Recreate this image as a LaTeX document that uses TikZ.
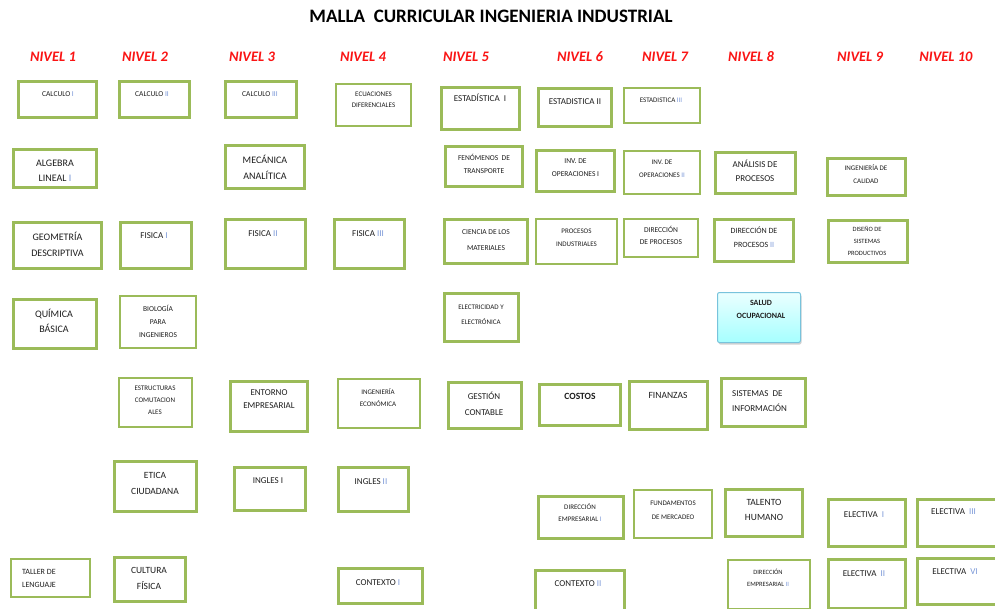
\documentclass[tikz,border=0pt]{standalone}
\usepackage{fontspec}
\setmainfont{Carlito}
\usetikzlibrary{shadows}

\definecolor{verde}{RGB}{155,187,89}
\definecolor{rojonivel}{RGB}{250,20,20}
\definecolor{texto}{RGB}{30,30,30}
\definecolor{romazul}{RGB}{120,150,215}
\definecolor{saludborde}{RGB}{120,195,220}
\newcommand{\rom}[1]{\textcolor{romazul}{#1}}

\tikzset{
  materia/.style={draw=verde, line width=3pt, fill=white, inner sep=0pt},
  materia fina/.style={draw=verde, line width=2pt, fill=white, inner sep=0pt},
  rotulo/.style 2 args={align=center, inner sep=0pt, text=texto, font=\fontsize{#1}{#2}\selectfont},
  nivel/.style={text=rojonivel, font=\fontsize{14.5}{14.5}\selectfont\bfseries\itshape}
}

\begin{document}
\begin{tikzpicture}[x=1pt,y=-1pt]
\useasboundingbox[fill=white] (0,0) rectangle (995,608);

\node[font=\fontsize{19}{19}\selectfont\bfseries, text=black] (titulo) at (491,16) {MALLA\ \ CURRICULAR INGENIERIA INDUSTRIAL};

% niveles
\node[nivel] (n1) at (53,57) {NIVEL 1};
\node[nivel] (n2) at (145,57) {NIVEL 2};
\node[nivel] (n3) at (252,57) {NIVEL 3};
\node[nivel] (n4) at (363,57) {NIVEL 4};
\node[nivel] (n5) at (466,57) {NIVEL 5};
\node[nivel] (n6) at (580,57) {NIVEL 6};
\node[nivel] (n7) at (665,57) {NIVEL 7};
\node[nivel] (n8) at (751,57) {NIVEL 8};
\node[nivel] (n9) at (860,57) {NIVEL 9};
\node[nivel] (n10) at (946,57) {NIVEL 10};

% nivel 1
\node[materia, minimum width=78, minimum height=36] (calculoI) at (57.5,99.5) {};
\node[rotulo={7.5}{9}] (tcalculoI) at (58,94) {CALCULO \rom{I}};
\node[materia, minimum width=83, minimum height=38] (algebra) at (55,168.5) {};
\node[rotulo={10}{15}] (talgebra) at (55,170.5) {ALGEBRA\\LINEAL \rom{I}};
\node[materia, minimum width=88, minimum height=46] (geometria) at (57.5,245.5) {};
\node[rotulo={10}{16}] (tgeometria) at (57.5,244) {GEOMETRÍA\\DESCRIPTIVA};
\node[materia, minimum width=83, minimum height=49] (quimica) at (55,324) {};
\node[rotulo={10}{15}] (tquimica) at (54,320.5) {QUÍMICA\\BÁSICA};
\node[materia fina, minimum width=79, minimum height=38] (taller) at (50.5,578) {};
\node[rotulo={8}{13}, align=left, anchor=west] (ttaller) at (22,578.5) {TALLER DE\\LENGUAJE};

% nivel 2
\node[materia, minimum width=70, minimum height=36] (calculoII) at (154.5,99.5) {};
\node[rotulo={7.5}{9}] (tcalculoII) at (152,94) {CALCULO \rom{II}};
\node[materia, minimum width=71, minimum height=46] (fisicaI) at (156,245.5) {};
\node[rotulo={9}{9}] (tfisicaI) at (154,236) {FISICA \rom{I}};
\node[materia fina, minimum width=76, minimum height=52] (biologia) at (158,322) {};
\node[rotulo={7.5}{13}] (tbiologia) at (158,321) {BIOLOGÍA\\PARA\\INGENIEROS};
\node[materia fina, minimum width=73, minimum height=49] (estructuras) at (155.5,402.5) {};
\node[rotulo={7}{12}] (testructuras) at (155,400) {ESTRUCTURAS\\COMUTACION\\ALES};
\node[materia, minimum width=82, minimum height=50] (etica) at (155.5,486.5) {};
\node[rotulo={9.5}{16}] (tetica) at (155,483) {ETICA\\CIUDADANA};
\node[materia, minimum width=71, minimum height=44] (cultura) at (150,579.5) {};
\node[rotulo={9.5}{16}] (tcultura) at (149,578) {CULTURA\\FÍSICA};

% nivel 3
\node[materia, minimum width=71, minimum height=36] (calculoIII) at (261,99.5) {};
\node[rotulo={7.5}{9}] (tcalculoIII) at (260,94) {CALCULO \rom{III}};
\node[materia, minimum width=79, minimum height=43] (mecanica) at (265,167) {};
\node[rotulo={10}{16}] (tmecanica) at (265,167) {MECÁNICA\\ANALÍTICA};
\node[materia, minimum width=80, minimum height=49] (fisicaII) at (265.5,244) {};
\node[rotulo={9}{9}] (tfisicaII) at (263,234) {FISICA \rom{II}};
\node[materia, minimum width=77, minimum height=50] (entorno) at (269,406.5) {};
\node[rotulo={9}{13}] (tentorno) at (269,399.5) {ENTORNO\\EMPRESARIAL};
\node[materia, minimum width=71, minimum height=43] (inglesI) at (270,489) {};
\node[rotulo={9}{9}] (tinglesI) at (268,481) {INGLES I};

% nivel 4
\node[materia fina, minimum width=75, minimum height=42] (ecuaciones) at (373.5,105) {};
\node[rotulo={7}{11}] (tecuaciones) at (373.5,99.5) {ECUACIONES\\DIFERENCIALES};
\node[materia, minimum width=70, minimum height=49] (fisicaIII) at (369.5,244) {};
\node[rotulo={9}{9}] (tfisicaIII) at (368,234) {FISICA \rom{III}};
\node[materia fina, minimum width=82, minimum height=49] (ingeco) at (379,403.5) {};
\node[rotulo={7}{12}] (tingeco) at (378,398) {INGENIERÍA\\ECONÓMICA};
\node[materia, minimum width=70, minimum height=44] (inglesII) at (373.5,489.5) {};
\node[rotulo={9}{9}] (tinglesII) at (371,482) {INGLES \rom{II}};
\node[materia, minimum width=84, minimum height=35] (contextoI) at (380.5,586) {};
\node[rotulo={9}{9}] (tcontextoI) at (378,583) {CONTEXTO \rom{I}};

% nivel 5
\node[materia, minimum width=78, minimum height=42] (estadI) at (480.5,108.5) {};
\node[rotulo={9}{9}] (testadI) at (480,98) {ESTADÍSTICA\ \ I};
\node[materia, minimum width=77, minimum height=40] (fenomenos) at (484,166.5) {};
\node[rotulo={7.5}{13}] (tfenomenos) at (484,163.5) {FENÓMENOS\ \ DE\\TRANSPORTE};
\node[materia, minimum width=83, minimum height=44] (ciencia) at (486,241.5) {};
\node[rotulo={7.5}{16}] (tciencia) at (486,240) {CIENCIA DE LOS\\MATERIALES};
\node[materia, minimum width=74, minimum height=48] (electricidad) at (481.5,317.5) {};
\node[rotulo={7}{15}] (telectricidad) at (481,314.5) {ELECTRICIDAD Y\\ELECTRÓNICA};
\node[materia, minimum width=73, minimum height=46] (gestion) at (485,405.5) {};
\node[rotulo={9}{16}] (tgestion) at (484,404) {GESTIÓN\\CONTABLE};

% nivel 6
\node[materia, minimum width=73, minimum height=38] (estadII) at (575,107.5) {};
\node[rotulo={9}{9}] (testadII) at (575,102) {ESTADISTICA II};
\node[materia, minimum width=78, minimum height=41] (invI) at (575.5,171) {};
\node[rotulo={7.5}{13}] (tinvI) at (575.5,167.5) {INV. DE\\OPERACIONES I};
\node[materia fina, minimum width=81, minimum height=45] (procesos) at (576.5,241.5) {};
\node[rotulo={7}{13}] (tprocesos) at (576.5,237.5) {PROCESOS\\INDUSTRIALES};
\node[materia, minimum width=81, minimum height=41] (costos) at (580,405) {};
\node[rotulo={9.5}{9}, font=\fontsize{9.5}{9.5}\selectfont\bfseries] (tcostos) at (580,396) {COSTOS};
\node[materia, minimum width=85, minimum height=42] (dirempI) at (581,517.5) {};
\node[rotulo={7}{12}] (tdirempI) at (580,513) {DIRECCIÓN\\EMPRESARIAL \rom{I}};
\node[materia, minimum width=89, minimum height=40] (contextoII) at (580,590) {};
\node[rotulo={9}{9}] (tcontextoII) at (578,584) {CONTEXTO \rom{II}};

% nivel 7
\node[materia fina, minimum width=76, minimum height=35] (estadIII) at (662,105.5) {};
\node[rotulo={7}{9}] (testadIII) at (661,100) {ESTADISTICA \rom{III}};
\node[materia fina, minimum width=76, minimum height=43] (invII) at (662,172.5) {};
\node[rotulo={7}{13}] (tinvII) at (662,168.5) {INV. DE\\OPERACIONES \rom{II}};
\node[materia fina, minimum width=74, minimum height=38] (dirproc) at (661,238) {};
\node[rotulo={7.5}{12}] (tdirproc) at (661,235) {DIRECCIÓN\\DE PROCESOS};
\node[materia, minimum width=78, minimum height=48] (finanzas) at (668.5,405.5) {};
\node[rotulo={9.5}{9}] (tfinanzas) at (668,395) {FINANZAS};
\node[materia fina, minimum width=78, minimum height=48] (fundamentos) at (673,514) {};
\node[rotulo={7}{14}] (tfundamentos) at (673,510) {FUNDAMENTOS\\DE MERCADEO};

% nivel 8
\node[materia, minimum width=80, minimum height=41] (analisis) at (755.5,173) {};
\node[rotulo={9}{14}] (tanalisis) at (755,171) {ANÁLISIS DE\\PROCESOS};
\node[materia, minimum width=79, minimum height=42] (dirprocII) at (754,240.5) {};
\node[rotulo={8}{14}] (tdirprocII) at (754,237) {DIRECCIÓN DE\\PROCESOS \rom{II}};
\node[draw=saludborde, line width=1pt, rounded corners=2pt, top color=cyan!8, bottom color=cyan!35, drop shadow={opacity=0.35, shadow xshift=1pt, shadow yshift=-2pt}, minimum width=83, minimum height=50, inner sep=0pt] (salud) at (759,317.5) {};
\node[rotulo={8}{13}, font=\fontsize{8}{13}\selectfont\bfseries] (tsalud) at (761,309.5) {SALUD\\OCUPACIONAL};
\node[materia, minimum width=84, minimum height=48] (sistemas) at (763.5,402.5) {};
\node[rotulo={9}{15}, align=left, anchor=west] (tsistemas) at (732,401.5) {SISTEMAS\ \ DE\\INFORMACIÓN};
\node[materia, minimum width=77, minimum height=47] (talento) at (764,513) {};
\node[rotulo={9.5}{15}] (ttalento) at (764,509.5) {TALENTO\\HUMANO};
\node[materia fina, minimum width=82, minimum height=49] (dirempII) at (769,584.5) {};
\node[rotulo={6.5}{12}] (tdirempII) at (768,578) {DIRECCIÓN\\EMPRESARIAL \rom{II}};

% nivel 9
\node[materia, minimum width=78, minimum height=37] (calidad) at (866.5,177) {};
\node[rotulo={7}{13}] (tcalidad) at (866,174.5) {INGENIERÍA DE\\CALIDAD};
\node[materia, minimum width=79, minimum height=42] (diseno) at (868,241.5) {};
\node[rotulo={6.5}{12}] (tdiseno) at (867,241) {DISEÑO DE\\SISTEMAS\\PRODUCTIVOS};
\node[materia, minimum width=77, minimum height=47] (electivaI) at (867,523) {};
\node[rotulo={9}{9}] (telectivaI) at (864,515) {ELECTIVA\ \ \rom{I}};
\node[materia, minimum width=77, minimum height=49] (electivaII) at (867,584) {};
\node[rotulo={9}{9}] (telectivaII) at (864,574) {ELECTIVA\ \ \rom{II}};

% nivel 10
\node[materia, minimum width=80, minimum height=47] (electivaIII) at (957,523) {};
\node[rotulo={9}{9}] (telectivaIII) at (953.5,512) {ELECTIVA\ \ \rom{III}};
\node[materia, minimum width=80, minimum height=46] (electivaVI) at (957,581.5) {};
\node[rotulo={9}{9}] (telectivaVI) at (955,572) {ELECTIVA\ \ \rom{VI}};
\end{tikzpicture}
\end{document}
